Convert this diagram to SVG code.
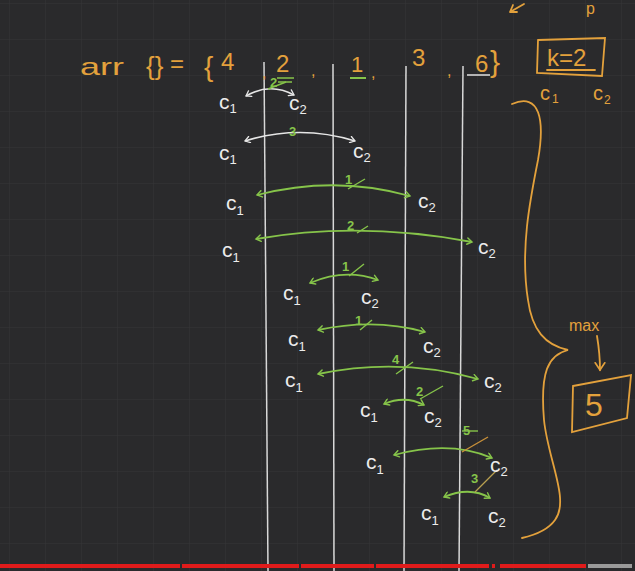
<svg xmlns="http://www.w3.org/2000/svg" width="635" height="571" viewBox="0 0 635 571">
<defs>
<pattern id="grid" width="36" height="36" patternUnits="userSpaceOnUse" x="10" y="4">
<path d="M36 0V36M0 36H36" fill="none" stroke="#353538" stroke-width="1"/>
</pattern>
<marker id="hw" viewBox="0 0 10 10" refX="8" refY="5" markerWidth="8" markerHeight="8" orient="auto-start-reverse" markerUnits="userSpaceOnUse">
<path d="M2 1L8 5L2 9" fill="none" stroke="#e6e6e6" stroke-width="1.6" stroke-linecap="round"/>
</marker>
<marker id="hg" viewBox="0 0 10 10" refX="8" refY="5" markerWidth="8" markerHeight="8" orient="auto-start-reverse" markerUnits="userSpaceOnUse">
<path d="M2 1L8 5L2 9" fill="none" stroke="#86c44a" stroke-width="1.8" stroke-linecap="round"/>
</marker>
<marker id="ho" viewBox="0 0 10 10" refX="8" refY="5" markerWidth="12" markerHeight="12" orient="auto" markerUnits="userSpaceOnUse">
<path d="M2 1L8 5L2 9" fill="none" stroke="#e3a13c" stroke-width="1.4" stroke-linecap="round"/>
</marker>
</defs>
<style>
text{font-family:"Liberation Sans",Arial,sans-serif}
.w{fill:#ececec;font-size:21px}
.w tspan{font-size:13px}
.o{fill:#e3a13c}
.g{fill:#86c44a;font-size:13px;font-weight:bold}
.aw{fill:none;stroke:#e6e6e6;stroke-width:1.6;marker-start:url(#hw);marker-end:url(#hw)}
.ag{fill:none;stroke:#86c44a;stroke-width:1.8;marker-start:url(#hg);marker-end:url(#hg)}
.sl{stroke:#86c44a;stroke-width:1.4}
.vl{stroke:#d8d8d8;stroke-width:1.5;fill:none}
.or{fill:none;stroke:#e3a13c;stroke-width:1.8;stroke-linecap:round}
</style>
<rect width="635" height="571" fill="#2a2a2c"/>
<rect width="635" height="571" fill="url(#grid)"/>

<g id="columns">
<path class="vl" d="M264 62L268 571"/>
<path class="vl" d="M333 64L334 571"/>
<path class="vl" d="M406 66L404 571"/>
<path class="vl" d="M463 66L459 571"/>
</g>

<g id="header">
<text x="80" y="75" class="o" font-size="24" textLength="44" lengthAdjust="spacingAndGlyphs">arr</text>
<text x="146" y="75" class="o" font-size="26">{}</text>
<text x="170" y="72" class="o" font-size="24">=</text>
<text x="204" y="76" class="o" font-size="28">{</text>
<text x="221" y="70" class="o" font-size="24">4</text>
<text x="262" y="78" class="o" font-size="16">,</text>
<text x="276" y="72" class="o" font-size="24">2</text>
<path d="M277 78H294M278 82H292" stroke="#86c44a" stroke-width="1.6"/>
<text x="311" y="76" class="o" font-size="16">,</text>
<text x="351" y="72" class="o" font-size="22">1</text>
<path d="M350 78H366" stroke="#86c44a" stroke-width="2"/>
<text x="371" y="78" class="o" font-size="16">,</text>
<text x="412" y="66" class="o" font-size="24">3</text>
<text x="447" y="76" class="o" font-size="16">,</text>
<text x="475" y="72" class="o" font-size="24">6</text>
<path d="M467 75H490" stroke="#e0e0e0" stroke-width="1.5"/>
<text x="490" y="72" class="o" font-size="30">}</text>
<path class="or" d="M538 40L605 38L602 76L537 73Z"/>
<text x="547" y="66" class="o" font-size="24">k=2</text>
<path class="or" d="M547 70H595"/>
<text x="540" y="100" class="o" font-size="20">c</text>
<text x="552" y="103" class="o" font-size="12">1</text>
<text x="593" y="100" class="o" font-size="20">c</text>
<text x="604" y="104" class="o" font-size="12">2</text>
<path class="or" d="M524 4L510 12M510 12L513 5M510 12L517 12"/>
<text x="586" y="14" class="o" font-size="16">p</text>
</g>

<g id="connectors">
<path class="aw" d="M246 96Q270 82 294 95"/>
<path class="aw" d="M245 141Q300 124 355 141"/>
<path class="ag" d="M257 195Q335 175 410 196"/>
<path class="ag" d="M256 239Q360 221 472 242"/>
<path class="ag" d="M310 283Q345 268 378 280"/>
<path class="ag" d="M318 330Q375 318 425 332"/>
<path class="ag" d="M318 374Q400 357 478 379"/>
<path class="ag" d="M384 404Q405 395 424 405"/>
<path class="ag" d="M394 455Q450 440 492 458"/>
<path class="ag" d="M444 497Q470 486 490 498"/>
</g>

<g id="weights">
<text x="270" y="87" class="g">2</text><path class="sl" d="M268 89L286 82"/>
<text x="289" y="136" class="g">3</text>
<text x="345" y="184" class="g">1</text><path class="sl" d="M348 189L365 179"/>
<text x="347" y="230" class="g">2</text><path class="sl" d="M357 233L368 226"/>
<text x="342" y="271" class="g">1</text><path class="sl" d="M349 276L364 264"/>
<text x="355" y="325" class="g">1</text><path class="sl" d="M360 330L372 320"/>
<text x="392" y="364" class="g">4</text><path class="sl" d="M396 374L413 362"/>
<text x="416" y="396" class="g">2</text><path class="sl" d="M420 399L443 386"/>
<text x="463" y="435" class="g">5</text><path d="M462 452L488 437" stroke="#c8903a" stroke-width="1.4"/><path class="sl" d="M462 431H478"/>
<text x="471" y="483" class="g">3</text><path d="M475 492L497 470" stroke="#b8a050" stroke-width="1.3"/>
</g>

<g id="row1"><text x="219" y="109" class="w">c<tspan dy="4">1</tspan></text><text x="289" y="110" class="w">c<tspan dy="4">2</tspan></text></g>
<g id="row2"><text x="219" y="160" class="w">c<tspan dy="4">1</tspan></text><text x="353" y="158" class="w">c<tspan dy="4">2</tspan></text></g>
<g id="row3"><text x="226" y="210" class="w">c<tspan dy="5">1</tspan></text><text x="418" y="208" class="w">c<tspan dy="4">2</tspan></text></g>
<g id="row4"><text x="222" y="257" class="w">c<tspan dy="5">1</tspan></text><text x="478" y="254" class="w">c<tspan dy="4">2</tspan></text></g>
<g id="row5"><text x="283" y="300" class="w">c<tspan dy="5">1</tspan></text><text x="361" y="304" class="w">c<tspan dy="4">2</tspan></text></g>
<g id="row6"><text x="288" y="346" class="w">c<tspan dy="5">1</tspan></text><text x="423" y="353" class="w">c<tspan dy="4">2</tspan></text></g>
<g id="row7"><text x="285" y="387" class="w">c<tspan dy="5">1</tspan></text><text x="484" y="388" class="w">c<tspan dy="4">2</tspan></text></g>
<g id="row8"><text x="360" y="417" class="w">c<tspan dy="5">1</tspan></text><text x="424" y="423" class="w">c<tspan dy="4">2</tspan></text></g>
<g id="row9"><text x="366" y="469" class="w">c<tspan dy="5">1</tspan></text><text x="490" y="472" class="w">c<tspan dy="4">2</tspan></text></g>
<g id="row10"><text x="421" y="520" class="w">c<tspan dy="5">1</tspan></text><text x="488" y="523" class="w">c<tspan dy="4">2</tspan></text></g>

<g id="brace">
<path class="or" d="M512 104C540 92 545 120 538 160C530 200 520 250 528 300C532 330 545 345 568 350C548 355 540 372 544 420C548 460 570 500 555 520C548 530 535 535 522 538"/>
</g>

<g id="result">
<text x="569" y="331" class="o" font-size="16">max</text>
<path class="or" d="M597 336C599 348 600 358 600 370" marker-end="url(#ho)"/>
<path class="or" d="M573 386L631 375L627 418L572 432Z"/>
<text x="585" y="416" class="o" font-size="32">5</text>
</g>

<g id="progress">
<rect x="0" y="564" width="180" height="4" fill="#e01b1b"/>
<rect x="182" y="564" width="117" height="4" fill="#e01b1b"/>
<rect x="301" y="564" width="73" height="4" fill="#e01b1b"/>
<rect x="376" y="564" width="113" height="4" fill="#e01b1b"/>
<rect x="492" y="564" width="3" height="4" fill="#e01b1b"/>
<rect x="500" y="564" width="86" height="4" fill="#e01b1b"/>
<rect x="588" y="564" width="44" height="4" fill="#9a9a9a"/>
</g>
</svg>
